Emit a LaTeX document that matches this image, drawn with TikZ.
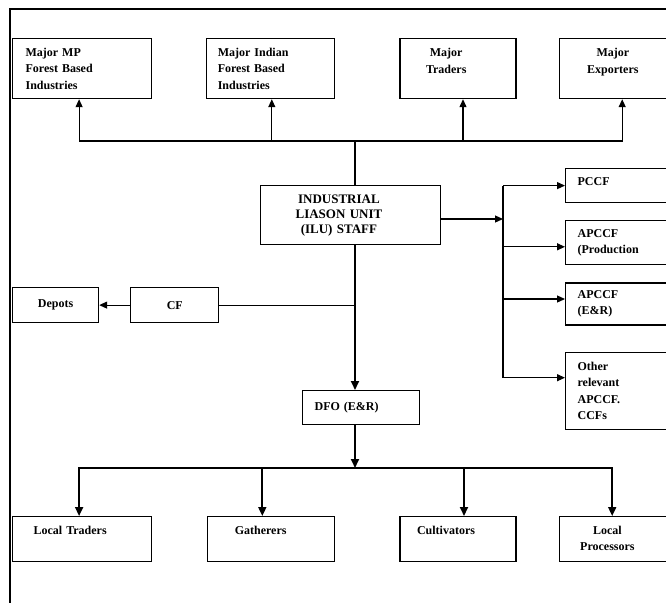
\documentclass[tikz,border=0pt]{standalone}
\usepackage{fontspec}
\setmainfont{Liberation Serif}
\usetikzlibrary{positioning,arrows.meta,calc}

\newcommand{\cstack}[1]{\begin{tabular}[t]{@{}c@{}}#1\end{tabular}}

\begin{document}
\begin{tikzpicture}[
  x=1pt, y=-1pt,
  font=\fontsize{12}{16.5}\selectfont\bfseries,
  >={Triangle[length=8pt,width=7pt]},
  node distance=17pt,
  blk/.style={draw, line width=1.2pt, align=center, inner sep=0pt},
  lft/.style 2 args={align=left, inner xsep=#2, text width={#1-2*#2}, minimum width=#1},
  ln/.style={line width=1.1pt},
  ar/.style={->, line width=1.2pt},
  tar/.style={->, line width=1.8pt, >={Triangle[length=9pt,width=8pt]}},
]
  \useasboundingbox (0,0) rectangle (666,603);
  \clip (0,0) rectangle (666,603);
  \draw[line width=2.2pt] (666,9) -- (10,9) -- (10,603);

  % top row
  \node[blk, lft={139pt}{13pt}, minimum height=60pt, anchor=north west] (mp) at (12,38)
        {Major MP\\Forest Based\\Industries};
  \node[blk, lft={128pt}{11pt}, minimum height=60pt, right=54pt of mp] (mif)
        {Major Indian\\Forest Based\\Industries};
  \node[blk, lft={116pt}{26pt}, minimum height=60pt, text depth=35pt, right=64pt of mif] (trd)
        {\cstack{Major\\Traders}};
  \node[blk, lft={130pt}{28pt}, minimum height=60pt, text depth=35pt, right=42pt of trd] (exp)
        {\cstack{Major\\Exporters}};

  \node[blk, lft={180pt}{35pt}, minimum height=59pt, anchor=north west,
        font=\fontsize{13}{15}\selectfont\bfseries] (ilu) at (260,185)
        {\cstack{INDUSTRIAL\\LIASON UNIT\\(ILU) STAFF}};

  % right column
  \node[blk, lft={130pt}{12pt}, minimum height=34pt, text depth=8pt, anchor=north west] (pccf) at (565,168) {PCCF};
  \node[blk, lft={130pt}{12pt}, minimum height=44pt, below=17pt of pccf] (prd) {APCCF\\(Production};
  \node[blk, lft={130pt}{12pt}, minimum height=42pt, below=17pt of prd] (enr) {APCCF\\(E\&R)};
  \node[blk, lft={130pt}{12pt}, minimum height=77pt, below=26pt of enr] (oth) {Other\\relevant\\APCCF.\\CCFs};

  % left and centre
  \node[blk, minimum width=86pt, minimum height=35pt, anchor=north west] (dep) at (12,287) {Depots};
  \node[blk, minimum width=88pt, minimum height=35pt, right=31pt of dep] (cf) {CF};
  \node[blk, lft={117pt}{12pt}, minimum height=34pt, anchor=north west] (dfo) at (302,390) {DFO (E\&R)};

  % bottom row
  \node[blk, lft={139pt}{21pt}, minimum height=45pt, text depth=17pt, anchor=north west] (ltr) at (12,516)
        {Local Traders};
  \node[blk, lft={127pt}{27pt}, minimum height=45pt, text depth=17pt, right=55pt of ltr] (gat) {Gatherers};
  \node[blk, lft={116pt}{17pt}, minimum height=45pt, text depth=17pt, right=64pt of gat] (cul) {Cultivators};
  \node[blk, lft={112pt}{21pt}, minimum height=45pt, right=42pt of cul] (lpr) {\cstack{Local\\Processors}};

  \coordinate (tj) at (355,141);
  \coordinate (rj) at (503,219);
  \coordinate (bj) at (355,468);

  \draw[ln] (tj |- ilu.north) -- (tj);
  \foreach \b/\s in {mp/-3,mif/1,trd/5,exp/-2}
    \draw[ar] (tj) -| ($(\b.south)+(\s,0)$);

  \draw[ar] (ilu.east |- rj) -- (rj);
  \draw[ln] (rj |- pccf.west) -- ($(rj |- oth.west)+(0,-13)$);
  \foreach \b/\s in {pccf/0,prd/4,enr/-5,oth/-13}
    \draw[ar] ($(rj |- \b.west)+(0,\s)$) -- ($(\b.west)+(0,\s)$);

  \draw[ln] (cf -| tj) -- (cf);
  \draw[ar] (cf) -- (dep);

  \draw[tar] (tj |- ilu.south) -- (tj |- dfo.north);
  \draw[tar] (tj |- dfo.south) -- (bj);
  \foreach \b/\s in {ltr/-3,gat/-9,cul/6,lpr/-3}
    \draw[tar] (bj) -| ($(\b.north)+(\s,0)$);
\end{tikzpicture}
\end{document}
